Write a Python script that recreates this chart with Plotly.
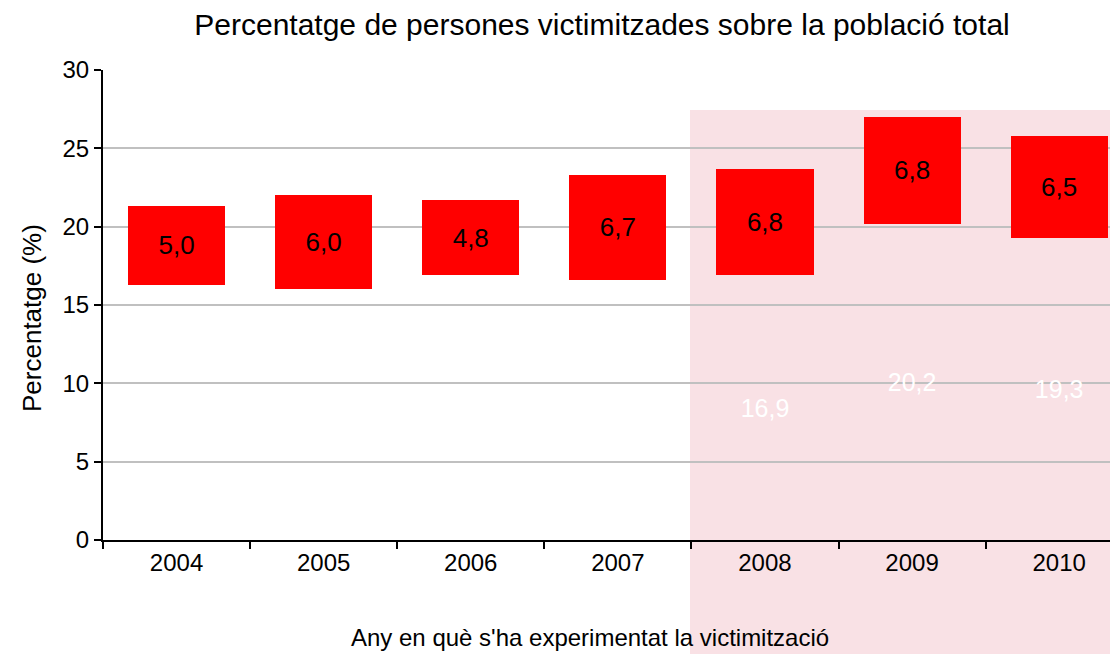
import plotly.graph_objects as go

years = ["2004", "2005", "2006", "2007", "2008", "2009", "2010"]
base_values = [16.3, 16.0, 16.9, 16.6, 16.9, 20.2, 19.3]
top_values = [5.0, 6.0, 4.8, 6.7, 6.8, 6.8, 6.5]

title_text = "Percentatge de persones victimitzades sobre la població total"
x_title = "Any en què s'ha experimentat la victimització"
y_title = "Percentatge (%)"

FONT = "Liberation Sans, Arial, sans-serif"
# page has an 8px body margin; figure sized to fill the rest of the window
OFF = 8
W, H = 1118 - OFF, 654 - OFF
L, R, T = 103 - OFF, 0, 70 - OFF
plot_bottom = 540 - OFF
B = H - plot_bottom
pw, ph = W - L - R, H - T - B

fig = go.Figure()
fig.add_trace(go.Bar(
    x=years, y=base_values,
    marker=dict(color="rgba(0,0,0,0)", line=dict(width=0)),
    texttemplate="%{y:.1f}", textposition="inside", insidetextanchor="middle",
    textfont=dict(color="white", size=25, family=FONT),
    showlegend=False, hoverinfo="skip",
))
fig.add_trace(go.Bar(
    x=years, y=top_values,
    marker=dict(color="#ff0000", line=dict(width=0)),
    texttemplate="%{y:.1f}", textposition="inside", insidetextanchor="middle",
    textfont=dict(color="black", size=26, family=FONT),
    showlegend=False,
))

# faint watermark tint (background)
fig.add_shape(type="rect", xref="paper", yref="paper",
              x0=(690 - OFF - L) / pw, x1=1.0,
              y0=-B / ph, y1=(plot_bottom - (110 - OFF)) / ph,
              fillcolor="#f9e1e5", line=dict(width=0), layer="below")

fig.update_layout(
    width=W, height=H,
    margin=dict(l=L, r=R, t=T, b=B),
    barmode="stack", bargap=0.34,
    separators=",.",
    plot_bgcolor="rgba(0,0,0,0)", paper_bgcolor="white",
    font=dict(family=FONT, size=24, color="black"),
    title=dict(text=title_text, x=(602 - OFF) / W, xanchor="center",
               y=1 - (24 - OFF) / H, yanchor="middle",
               font=dict(size=30, family=FONT, color="black")),
    xaxis=dict(
        type="category", range=[-0.5, 6.4],
        showline=True, linecolor="black", linewidth=2,
        ticks="outside", tickson="boundaries", ticklen=7, tickwidth=2, tickcolor="black",
        tickfont=dict(size=24, family=FONT), showgrid=False,
    ),
    yaxis=dict(
        range=[0, 30], dtick=5,
        showline=True, linecolor="black", linewidth=2,
        ticks="outside", ticklen=7, tickwidth=2, tickcolor="black",
        showgrid=True, gridcolor="#c0c0c0", gridwidth=2,
        zeroline=False, tickfont=dict(size=24, family=FONT),
    ),
    annotations=[
        dict(text=x_title, xref="paper", yref="paper",
             x=(590 - OFF - L) / pw, y=-(637 - 540) / ph, xanchor="center", yanchor="middle",
             showarrow=False, font=dict(size=24, family=FONT)),
        dict(text=y_title, xref="paper", yref="paper", textangle=-90,
             x=(32 - OFF - L) / pw, y=(540 - 318) / ph, xanchor="center", yanchor="middle",
             showarrow=False, font=dict(size=26, family=FONT)),
    ],
)

fig.write_html("out.html")
